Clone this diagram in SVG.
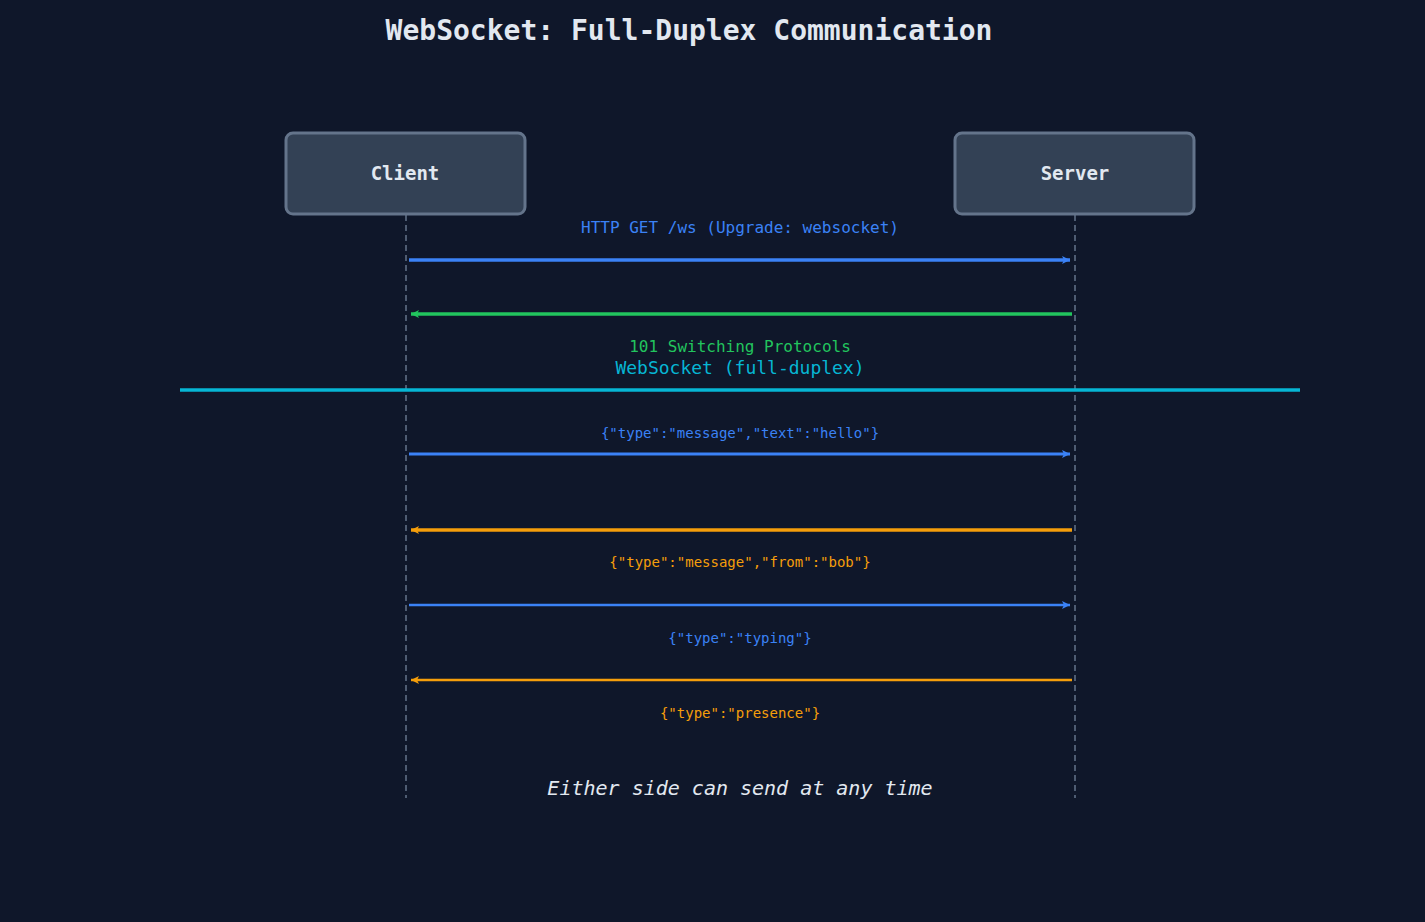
<svg xmlns="http://www.w3.org/2000/svg" width="1425" height="922" viewBox="0 0 1425 922">
<style>
text{font-family:"DejaVu Sans Mono",monospace;text-anchor:middle}
.box{fill:#334155;stroke:#64748b;stroke-width:3}
.life{stroke:#64748b;stroke-width:1.5;stroke-dasharray:6 4}
.blue{stroke:#3b82f6;fill:none}
.green{stroke:#22c55e;fill:none}
.orange{stroke:#f59e0b;fill:none}
</style>
<defs>
<marker id="ab" viewBox="0 0 10 10" refX="9" refY="5" markerWidth="10" markerHeight="10" markerUnits="userSpaceOnUse" orient="auto-start-reverse"><path d="M1,1 L9,5 L1,9 L3,5 Z" fill="#3b82f6"/></marker>
<marker id="ag" viewBox="0 0 10 10" refX="9" refY="5" markerWidth="10" markerHeight="10" markerUnits="userSpaceOnUse" orient="auto-start-reverse"><path d="M1,1 L9,5 L1,9 L3,5 Z" fill="#22c55e"/></marker>
<marker id="ao" viewBox="0 0 10 10" refX="9" refY="5" markerWidth="10" markerHeight="10" markerUnits="userSpaceOnUse" orient="auto-start-reverse"><path d="M1,1 L9,5 L1,9 L3,5 Z" fill="#f59e0b"/></marker>
</defs>
<rect width="1425" height="922" fill="#0f172a"/>
<text x="689" y="40" font-size="28" font-weight="bold" fill="#e2e8f0">WebSocket: Full-Duplex Communication</text>
<g id="lifelines">
<line class="life" x1="406" y1="215" x2="406" y2="798"/>
<line class="life" x1="1075" y1="215" x2="1075" y2="798"/>
</g>
<g id="client"><rect class="box" x="286" y="133" width="239" height="81" rx="7"/><text x="405" y="180" font-size="19" font-weight="bold" fill="#e2e8f0">Client</text></g>
<g id="server"><rect class="box" x="955" y="133" width="239" height="81" rx="7"/><text x="1075" y="180" font-size="19" font-weight="bold" fill="#e2e8f0">Server</text></g>
<g id="connectors">
<line class="blue" stroke-width="3.5" x1="409" y1="260" x2="1070" y2="260" marker-end="url(#ab)"/>
<text x="740" y="233" font-size="16" fill="#3b82f6">HTTP GET /ws (Upgrade: websocket)</text>
<line class="green" stroke-width="3.5" x1="1072" y1="314" x2="411" y2="314" marker-end="url(#ag)"/>
<text x="740" y="352" font-size="16" fill="#22c55e">101 Switching Protocols</text>
<line x1="180" y1="390" x2="1300" y2="390" stroke="#06b6d4" stroke-width="3.5"/>
<text x="740" y="374" font-size="18" fill="#06b6d4">WebSocket (full-duplex)</text>
<line class="blue" stroke-width="3" x1="409" y1="454" x2="1070" y2="454" marker-end="url(#ab)"/>
<text x="740" y="438" font-size="14" fill="#3b82f6">{"type":"message","text":"hello"}</text>
<line class="orange" stroke-width="3.5" x1="1072" y1="530" x2="411" y2="530" marker-end="url(#ao)"/>
<text x="740" y="567" font-size="14" fill="#f59e0b">{"type":"message","from":"bob"}</text>
<line class="blue" stroke-width="2.5" x1="409" y1="605" x2="1070" y2="605" marker-end="url(#ab)"/>
<text x="740" y="643" font-size="14" fill="#3b82f6">{"type":"typing"}</text>
<line class="orange" stroke-width="2.5" x1="1072" y1="680" x2="411" y2="680" marker-end="url(#ao)"/>
<text x="740" y="718" font-size="14" fill="#f59e0b">{"type":"presence"}</text>
</g>
<text x="740" y="795" font-size="20" font-style="italic" fill="#e2e8f0">Either side can send at any time</text>
</svg>
